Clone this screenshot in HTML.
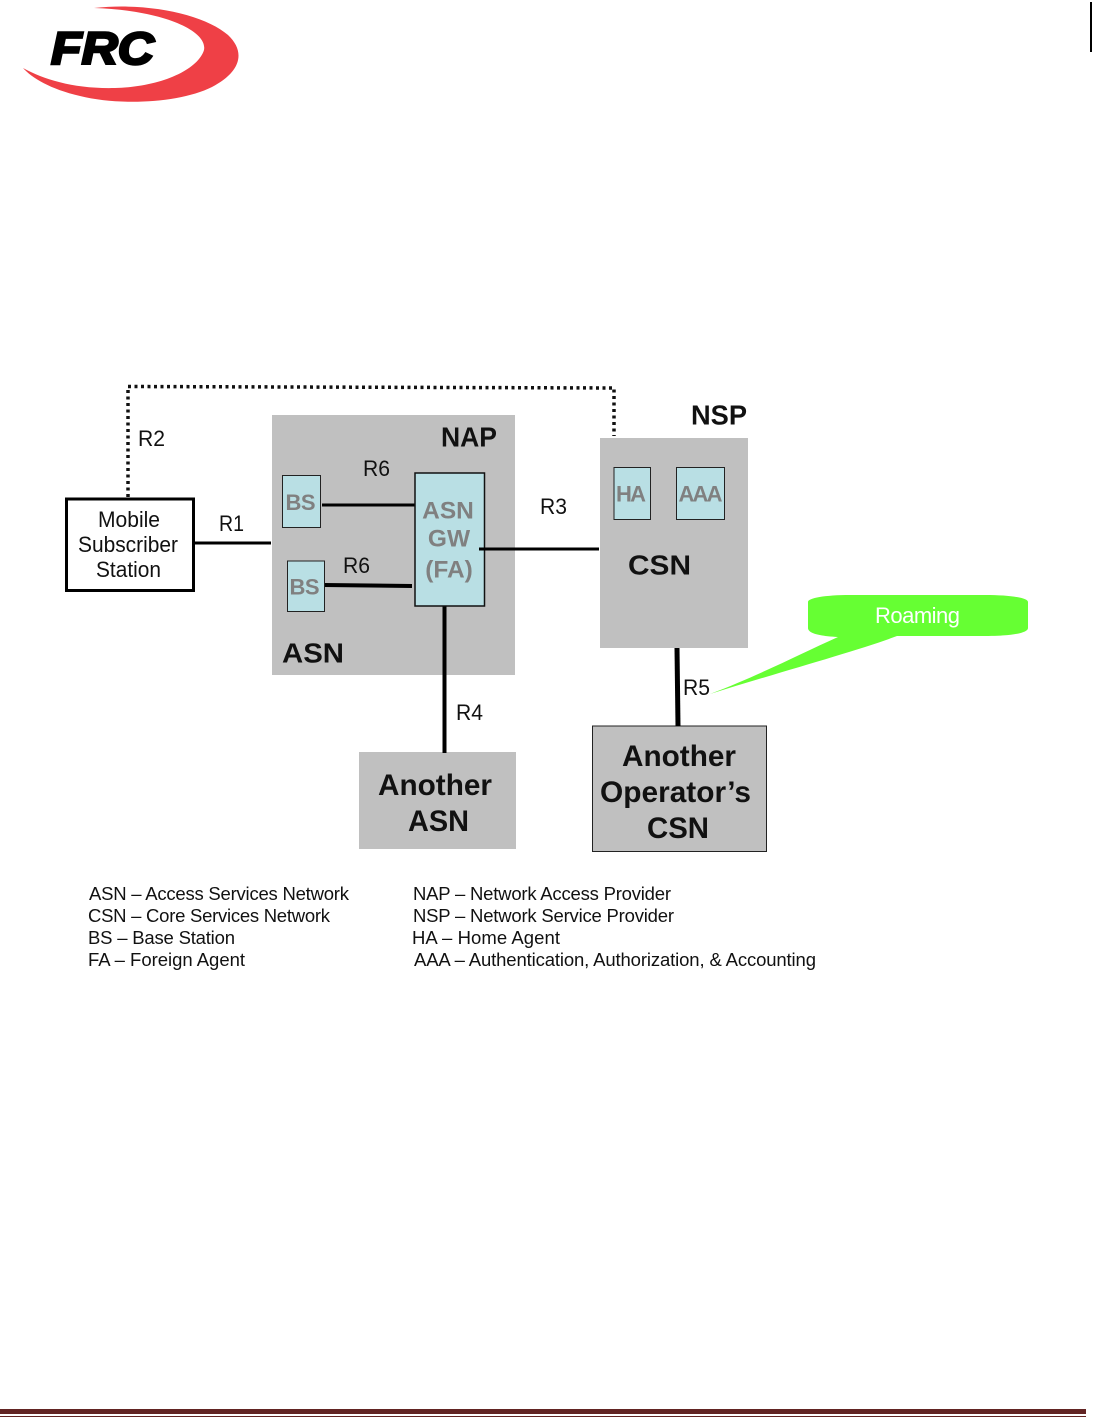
<!DOCTYPE html>
<html><head><meta charset="utf-8">
<style>
html,body{margin:0;padding:0;background:#fff;width:1093px;height:1417px;overflow:hidden}
svg{display:block}
text{font-family:"Liberation Sans",sans-serif;fill:#111}
.b{font-weight:bold}
.g{font-weight:bold;fill:#808080}
</style></head><body>
<svg width="1093" height="1417" viewBox="0 0 1093 1417" xmlns="http://www.w3.org/2000/svg">
<!-- logo -->
<path d="M94 8 C150 2 205 15 228 35 C246 52 241 72 212 87 C180 103 120 106 80 96 C50 89 32 78 23 68 C45 80 75 89 115 88 C160 87 198 70 204 50 C208 30 160 10 94 8Z" fill="#ef4046"/>
<text x="51" y="64" class="b" font-size="45" font-style="italic" stroke="#000" stroke-width="2.500" style="fill:#000" textLength="103" lengthAdjust="spacingAndGlyphs">FRC</text>
<rect x="1090" y="2" width="2" height="50" fill="#000"/>

<!-- gray boxes -->
<rect x="272" y="415" width="243" height="260" fill="#c0c0c0"/>
<rect x="600" y="438" width="148" height="210" fill="#c0c0c0"/>
<rect x="359" y="752" width="157" height="97" fill="#c0c0c0"/>
<rect x="592.500" y="726" width="174" height="125.500" fill="#c0c0c0" stroke="#222" stroke-width="1"/>

<!-- dotted R2 -->
<path d="M128 497 V386.500 L614 388 V436" fill="none" stroke="#111" stroke-width="3.500" stroke-dasharray="3 3.500"/>

<!-- mobile -->
<rect x="66.500" y="499" width="127" height="91.500" fill="#fff" stroke="#000" stroke-width="3"/>
<text x="98" y="527" font-size="22" textLength="62" lengthAdjust="spacingAndGlyphs">Mobile</text>
<text x="78" y="552" font-size="22" textLength="100" lengthAdjust="spacingAndGlyphs">Subscriber</text>
<text x="96" y="577" font-size="22" textLength="65" lengthAdjust="spacingAndGlyphs">Station</text>

<!-- lines -->
<g stroke="#000" fill="none">
<line x1="194" y1="543" x2="271" y2="543" stroke-width="3"/>
<line x1="322" y1="505" x2="415" y2="505" stroke-width="3"/>
<line x1="324" y1="585" x2="412" y2="586" stroke-width="4"/>
<line x1="479" y1="549" x2="599" y2="549" stroke-width="3"/>
<line x1="444.500" y1="606" x2="444.500" y2="753" stroke-width="4"/>
<line x1="677" y1="648" x2="678" y2="726" stroke-width="5"/>
</g>

<!-- light blue -->
<g fill="#b9dfe4" stroke="#222" stroke-width="1">
<rect x="282.500" y="475.500" width="38" height="52"/>
<rect x="287.500" y="561" width="37" height="50.500"/>
<rect x="614" y="467.500" width="36.500" height="52"/>
<rect x="676.500" y="467.500" width="48" height="52"/>
</g>
<rect x="415" y="473" width="69.500" height="133" fill="#b9dfe4" stroke="#111" stroke-width="1.500"/>
<line x1="479" y1="549" x2="515" y2="549" stroke="#000" stroke-width="3"/>

<g font-size="22">
<text class="g" x="285.500" y="510" textLength="30">BS</text>
<text class="g" x="289.500" y="594.500" textLength="30">BS</text>
<text class="g" x="616" y="501.500" textLength="30">HA</text>
<text class="g" x="678.500" y="501.500" textLength="44">AAA</text>
</g>
<g font-size="24.500" text-anchor="middle">
<text class="g" x="448" y="518.500">ASN</text>
<text class="g" x="449" y="546.500">GW</text>
<text class="g" x="449" y="577.500">(FA)</text>
</g>

<g font-size="28">
<text class="b" x="441" y="446.500" textLength="56" lengthAdjust="spacingAndGlyphs">NAP</text>
<text class="b" x="691" y="424.500" textLength="56" lengthAdjust="spacingAndGlyphs">NSP</text>
<text class="b" x="282" y="662.500" textLength="62" lengthAdjust="spacingAndGlyphs">ASN</text>
<text class="b" x="628" y="574.500" textLength="63" lengthAdjust="spacingAndGlyphs">CSN</text>
</g>
<g font-size="30">
<text class="b" x="378" y="795" textLength="114" lengthAdjust="spacingAndGlyphs">Another</text>
<text class="b" x="408" y="831" textLength="61" lengthAdjust="spacingAndGlyphs">ASN</text>
<text class="b" x="622" y="766" textLength="114" lengthAdjust="spacingAndGlyphs">Another</text>
<text class="b" x="600" y="802" textLength="151" lengthAdjust="spacingAndGlyphs">Operator’s</text>
<text class="b" x="647" y="838" textLength="62" lengthAdjust="spacingAndGlyphs">CSN</text>
</g>

<g font-size="22">
<text x="138" y="446" textLength="27" lengthAdjust="spacingAndGlyphs">R2</text>
<text x="219" y="531" textLength="25" lengthAdjust="spacingAndGlyphs">R1</text>
<text x="363" y="476" textLength="27" lengthAdjust="spacingAndGlyphs">R6</text>
<text x="343" y="573" textLength="27" lengthAdjust="spacingAndGlyphs">R6</text>
<text x="540" y="514" textLength="27" lengthAdjust="spacingAndGlyphs">R3</text>
<text x="456" y="720" textLength="27" lengthAdjust="spacingAndGlyphs">R4</text>
<text x="683" y="695" textLength="27" lengthAdjust="spacingAndGlyphs">R5</text>
</g>

<!-- roaming -->
<path d="M710 694 C760 675 800 654 838 637 C818 636 808 633 808 628 V602 C808 598 825 595 850 595 H985 C1012 595 1028 598 1028 602 V628 C1028 633 1012 636 985 636 H897 C860 650 780 672 710 694Z" fill="#66ff33"/>
<text x="875" y="623" font-size="22" textLength="85" style="fill:#fff">Roaming</text>

<!-- legend -->
<g font-size="18.500">
<text x="89" y="900" textLength="260">ASN – Access Services Network</text>
<text x="88" y="922" textLength="242">CSN – Core Services Network</text>
<text x="88" y="944" textLength="147">BS – Base Station</text>
<text x="88" y="966" textLength="157">FA – Foreign Agent</text>
<text x="413" y="900" textLength="258">NAP – Network Access Provider</text>
<text x="413" y="922" textLength="261">NSP – Network Service Provider</text>
<text x="412" y="944" textLength="148">HA – Home Agent</text>
<text x="414" y="966" textLength="402">AAA – Authentication, Authorization, &amp; Accounting</text>
</g>

<!-- footer -->
<rect x="0" y="1409" width="1086" height="5" fill="#622423"/>
<rect x="0" y="1416" width="1086" height="1" fill="#622423"/>
</svg>
</body></html>
